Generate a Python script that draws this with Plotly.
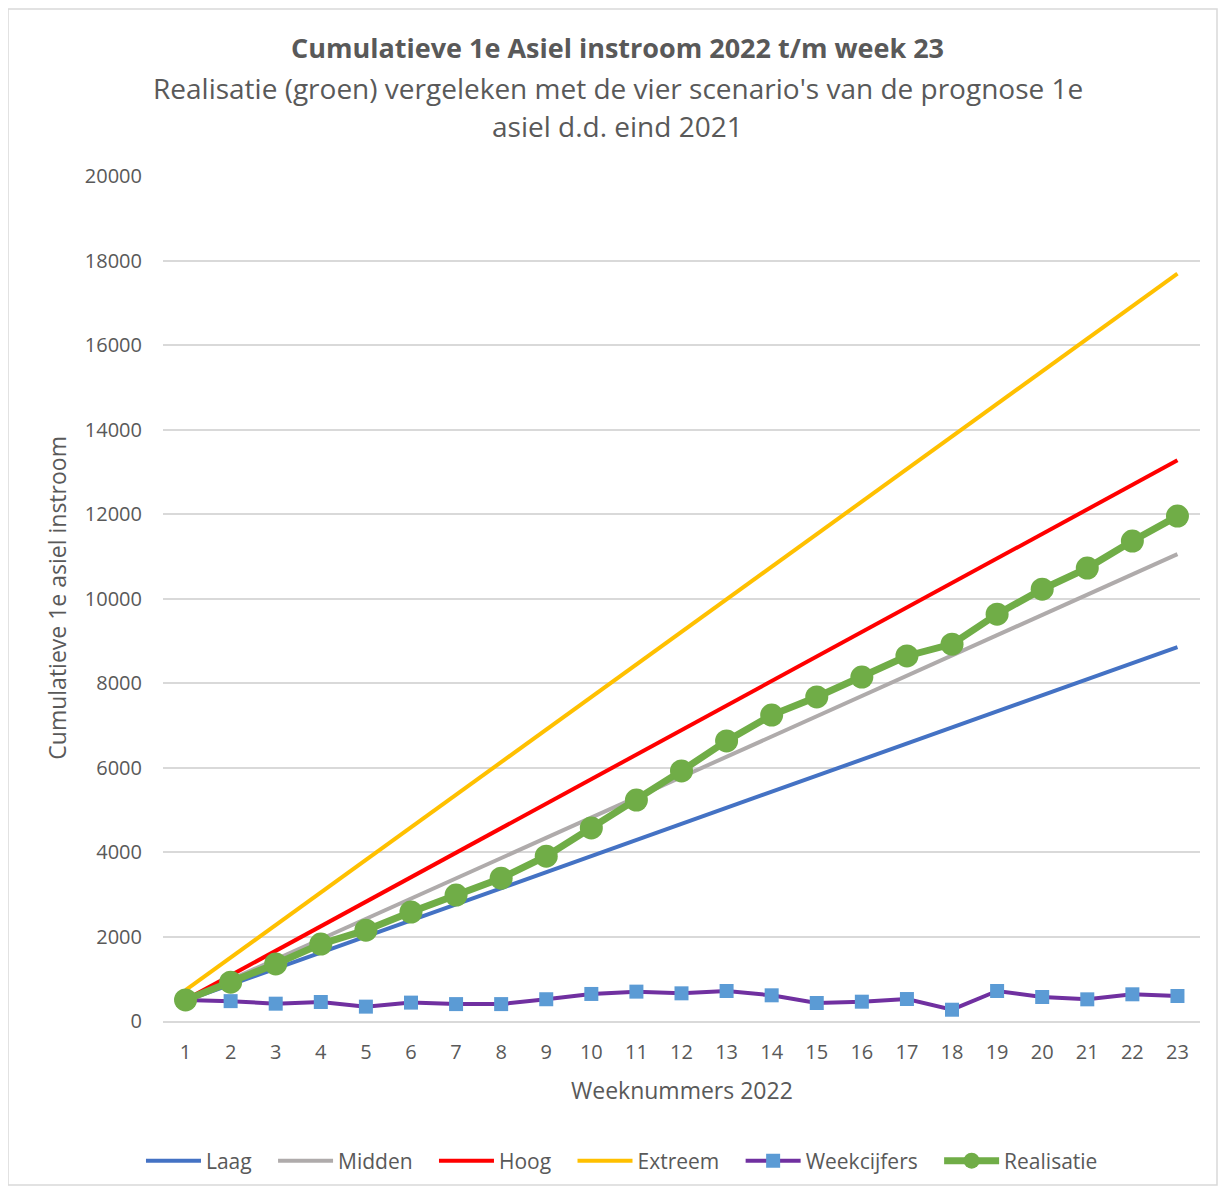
"""Cumulatieve 1e asiel instroom 2022 vs. de vier prognosescenario's."""
import plotly.graph_objects as go

# ---------- data ----------
weeks = list(range(1, 24))

# scenario lines are straight: start (week 1) and end (week 23)
scenario_weeks = [1, 23]
laag = [480, 8850]
midden = [500, 11050]
hoog = [500, 13270]
extreem = [730, 17690]

weekcijfers = [500, 470, 410, 450, 340, 435, 400, 400, 515, 640, 695, 655,
               710, 608, 426, 457, 520, 267, 710, 568, 513, 632, 592]

realisatie = [500, 920, 1350, 1820, 2150, 2580, 2980, 3380, 3900, 4570, 5230, 5920,
              6630, 7240, 7670, 8140, 8640, 8920, 9630, 10220, 10720, 11360, 11950]

title_lines = [
    "<b>Cumulatieve 1e Asiel instroom 2022 t/m week 23</b>",
    "Realisatie (groen) vergeleken met de vier scenario's van de prognose 1e",
    "asiel d.d. eind 2021",
]

FONT = "Open Sans, Noto Sans, sans-serif"
GREY_TXT = "#595959"
PAD = "\u00a0" * 3  # extra room between legend entries

PLOT_H = 845

fig = go.Figure()

for name, vals, col in [
    ("Laag", laag, "#4472C4"),
    ("Midden", midden, "#AFABAB"),
    ("Hoog", hoog, "#FF0000"),
    ("Extreem", extreem, "#FFC000"),
]:
    fig.add_trace(go.Scatter(x=scenario_weeks, y=vals, name=name + PAD, mode="lines",
                             line=dict(color=col, width=4)))

fig.add_trace(go.Scatter(
    x=weeks, y=weekcijfers, name="Weekcijfers" + PAD, mode="lines+markers",
    line=dict(color="#7030A0", width=4),
    marker=dict(symbol="square", size=14, color="#5B9BD5"),
))
fig.add_trace(go.Scatter(
    x=weeks, y=realisatie, name="Realisatie", mode="lines+markers",
    line=dict(color="#70AD47", width=7),
    marker=dict(symbol="circle", size=23, color="#70AD47"),
))

fig.update_layout(
    width=1210, height=1178,
    paper_bgcolor="white", plot_bgcolor="white",
    margin=dict(l=155, r=18, t=168, b=165, autoexpand=False),
    font=dict(family=FONT, color=GREY_TXT),
    xaxis=dict(
        range=[0.5, 23.5], tickmode="array", tickvals=weeks,
        ticktext=[str(w) for w in weeks],
        showgrid=False, zeroline=False,
        showline=True, linecolor="#D9D9D9", linewidth=2,
        ticks="", ticklabelstandoff=12, tickfont=dict(size=20, color=GREY_TXT),
    ),
    yaxis=dict(
        range=[0, 20000], dtick=2000, tickformat="d",
        showgrid=True, gridcolor="#D9D9D9", gridwidth=1.5,
        zeroline=False, showline=False, ticks="", ticklabelstandoff=20,
        tickfont=dict(size=20, color=GREY_TXT),
    ),
    legend=dict(
        orientation="h", x=0.4426, xanchor="center", y=-140 / PLOT_H, yanchor="middle",
        font=dict(size=21, color=GREY_TXT), itemwidth=55,
        bgcolor="rgba(0,0,0,0)",
    ),
    showlegend=True,
)

# title lines
for txt, d, sz in zip(title_lines, [129, 88, 50], [27, 28, 28]):
    fig.add_annotation(text=txt, xref="paper", yref="paper", x=0.4383, y=1 + d / PLOT_H,
                       xanchor="center", yanchor="middle", showarrow=False,
                       font=dict(size=sz, color=GREY_TXT, family=FONT))

# axis titles
fig.add_annotation(text="Weeknummers 2022", xref="paper", yref="paper", x=0.5005, y=-69 / PLOT_H,
                   xanchor="center", yanchor="middle", showarrow=False,
                   font=dict(size=23, color=GREY_TXT, family=FONT))
fig.add_annotation(text="Cumulatieve 1e asiel instroom", xref="paper", yref="paper",
                   x=-0.1022, y=0.501, textangle=-90,
                   xanchor="center", yanchor="middle", showarrow=False,
                   font=dict(size=23, color=GREY_TXT, family=FONT))

# light chart border along the figure edge
fig.add_shape(type="rect", xref="paper", yref="paper",
              x0=-155 / 1037, x1=1 + 17 / 1037, y0=-164 / PLOT_H, y1=1 + 167 / PLOT_H,
              line=dict(color="#D9D9D9", width=1.5), fillcolor="rgba(0,0,0,0)", layer="below")

fig.write_html("out.html")
